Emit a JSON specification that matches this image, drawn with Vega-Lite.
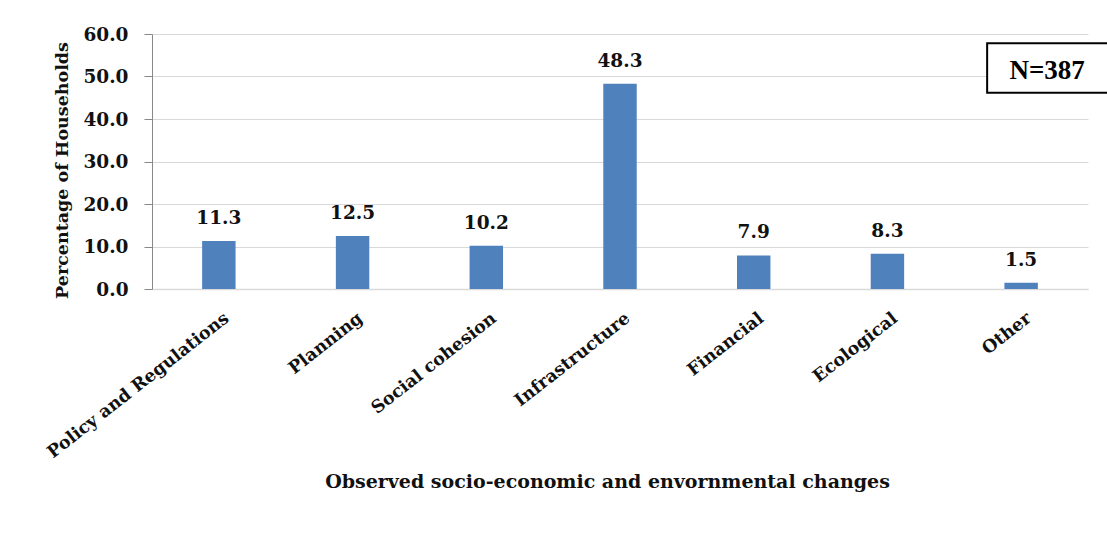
{
  "$schema": "https://vega.github.io/schema/vega-lite/v6.json",
  "width": 936,
  "height": 255,
  "autosize": {"type": "none"},
  "padding": {"left": 152, "top": 34, "right": 19, "bottom": 256},
  "background": "white",
  "config": {
    "view": {"stroke": null},
    "font": "DejaVu Serif"
  },
  "data": {
    "values": [
      {"category": "Policy and Regulations", "pct": 11.3},
      {"category": "Planning", "pct": 12.5},
      {"category": "Social cohesion", "pct": 10.2},
      {"category": "Infrastructure", "pct": 48.3},
      {"category": "Financial", "pct": 7.9},
      {"category": "Ecological", "pct": 8.3},
      {"category": "Other", "pct": 1.5}
    ]
  },
  "encoding": {
    "x": {
      "field": "category",
      "type": "nominal",
      "sort": null,
      "scale": {"paddingInner": 0.75, "paddingOuter": 0.375},
      "axis": {
        "title": "Observed socio-economic and envornmental changes",
        "titleFont": "DejaVu Serif",
        "titleFontSize": 19,
        "titleFontWeight": "bold",
        "titleColor": "#111111",
        "titleX": 455,
        "titleY": 192,
        "titleAlign": "center",
        "titleBaseline": "middle",
        "labelAngle": -38,
        "labelAlign": "right",
        "labelBaseline": "middle",
        "labelFont": "DejaVu Serif",
        "labelFontSize": 17.5,
        "labelFontWeight": "bold",
        "labelColor": "#111111",
        "labelPadding": 27,
        "labelOffset": 8,
        "labelLimit": 0,
        "ticks": false,
        "domainColor": "#d9d9d9",
        "domainWidth": 1.5
      }
    }
  },
  "layer": [
    {
      "mark": {"type": "bar", "color": "#4F81BD"},
      "encoding": {
        "y": {
          "field": "pct",
          "type": "quantitative",
          "scale": {"domain": [0, 60]},
          "axis": {
            "title": "Percentage of Households",
            "titleFont": "DejaVu Serif",
            "titleFontSize": 17.5,
            "titleFontWeight": "bold",
            "titleColor": "#111111",
            "titleAngle": -90,
            "titleAlign": "center",
            "titleBaseline": "middle",
            "titleX": -90,
            "titleY": 136,
            "values": [0, 10, 20, 30, 40, 50, 60],
            "format": ".1f",
            "labelFont": "DejaVu Serif",
            "labelFontSize": 18.5,
            "labelFontWeight": "bold",
            "labelColor": "#111111",
            "labelPadding": 16,
            "tickSize": 8,
            "tickColor": "#888888",
            "domainColor": "#888888",
            "gridColor": "#d9d9d9",
            "gridWidth": 1.2
          }
        }
      }
    },
    {
      "mark": {
        "type": "text",
        "font": "DejaVu Serif",
        "fontSize": 18.5,
        "fontWeight": "bold",
        "color": "#111111",
        "baseline": "alphabetic",
        "dy": -17
      },
      "encoding": {
        "y": {"field": "pct", "type": "quantitative"},
        "text": {"field": "pct", "type": "quantitative", "format": ".1f"}
      }
    },
    {
      "data": {"values": [{"note": "N=387"}]},
      "mark": {
        "type": "point",
        "shape": "M-1,-0.4L1,-0.4L1,0.4L-1,0.4Z",
        "size": 15376,
        "filled": false,
        "fill": "white",
        "fillOpacity": 1,
        "stroke": "#000000",
        "strokeWidth": 2,
        "opacity": 1,
        "xOffset": 28
      },
      "encoding": {
        "x": {"datum": "Other"},
        "y": {"datum": 52}
      }
    },
    {
      "data": {"values": [{"note": "N=387"}]},
      "mark": {
        "type": "text",
        "font": "Liberation Serif",
        "fontSize": 27,
        "fontWeight": "bold",
        "color": "#000000",
        "baseline": "middle",
        "align": "center",
        "xOffset": 26
      },
      "encoding": {
        "x": {"datum": "Other"},
        "y": {"datum": 51.3},
        "text": {"field": "note", "type": "nominal"}
      }
    }
  ]
}
